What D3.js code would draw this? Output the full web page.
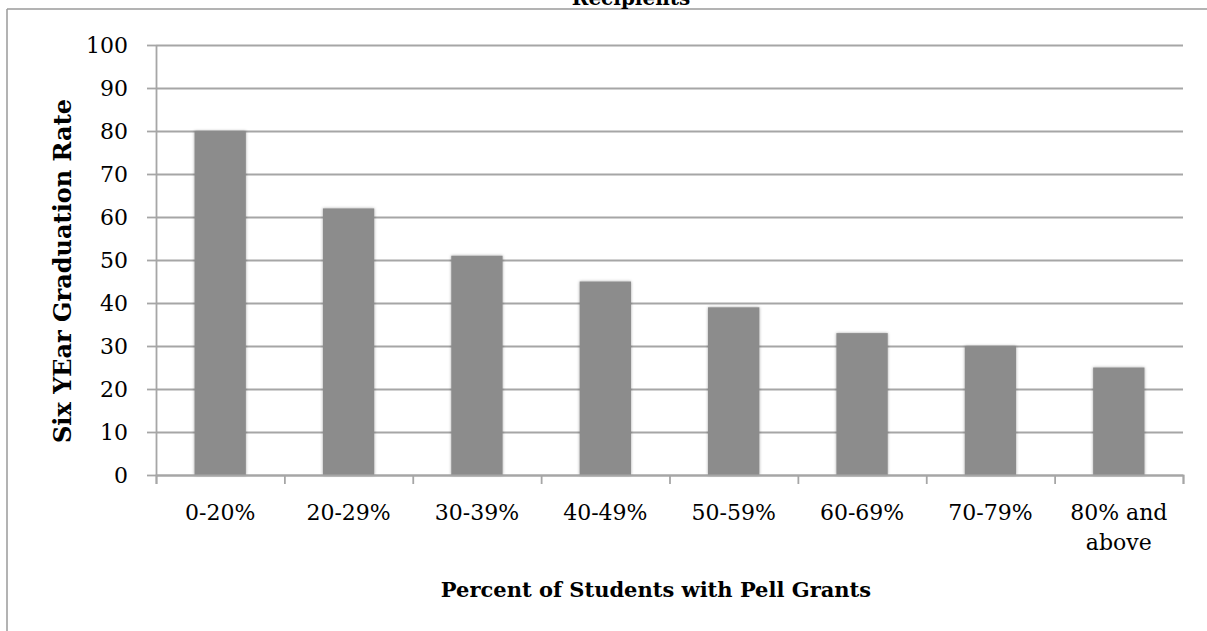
<!DOCTYPE html>
<html>
<head>
<meta charset="utf-8">
<script src="https://cdn.jsdelivr.net/npm/d3@7"></script>
<style>
  body { margin: 0; background: #fff; }
  svg text { font-family: "DejaVu Serif", "Liberation Serif", serif; fill: #000; }
  .axisLabel { font-size: 22px; }
  .axisTitle { font-size: 20px; font-weight: bold; }
</style>
</head>
<body>
<svg class="chart" width="1207" height="631"></svg>
<script>
// Chart data
var categories = ["0-20%", "20-29%", "30-39%", "40-49%", "50-59%", "60-69%", "70-79%", "80% and above"];
var gradRates = [80, 62, 51, 45, 39, 33, 30, 25];
var yTicks = [0, 10, 20, 30, 40, 50, 60, 70, 80, 90, 100];

var chartTitle = "Recipients";
var xTitle = "Percent of Students with Pell Grants";
var yTitle = "Six YEar Graduation Rate";

const width = 1207;
const height = 631;

// plot area
const plotLeft = 156, plotRight = 1183, plotTop = 45, plotBottom = 475;

var svg = d3.select(".chart");

// shadow for bars
var defs = svg.append("defs");
var shadow = defs.append("filter").attr("id", "barShadow")
    .attr("x", "-20%").attr("y", "-5%").attr("width", "140%").attr("height", "110%");
shadow.append("feDropShadow")
    .attr("dx", 0).attr("dy", 0).attr("stdDeviation", 1.6)
    .attr("flood-color", "#000").attr("flood-opacity", 0.35);

// chart frame (only the top and left edges are visible)
svg.append("line").attr("x1", 7).attr("x2", width).attr("y1", 9).attr("y2", 9)
    .attr("stroke", "#9a9a9a").attr("stroke-width", 1.5);
svg.append("line").attr("x1", 7).attr("x2", 7).attr("y1", 9).attr("y2", height)
    .attr("stroke", "#9a9a9a").attr("stroke-width", 1.5);

// title, cut by the top of the picture as in the original
svg.append("text")
    .attr("class", "axisTitle")
    .attr("x", 631).attr("y", 5)
    .attr("text-anchor", "middle")
    .text(chartTitle);

/**** Scales ****/
var xScale = d3.scaleBand()
    .domain(categories)
    .range([plotLeft, plotRight])
    .paddingInner(0.6)
    .paddingOuter(0.3);

var edgeScale = d3.scaleLinear()
    .domain([0, categories.length])
    .range([plotLeft, plotRight]);

var yScale = d3.scaleLinear()
    .domain([0, 100])
    .range([plotBottom, plotTop]);

/**** Gridlines ****/
var grid = svg.append("g")
    .attr("transform", "translate(" + plotLeft + ",0)")
    .call(d3.axisLeft(yScale).tickValues(yTicks).tickSize(-(plotRight - plotLeft)).tickFormat(""));
grid.select(".domain").remove();
grid.selectAll("line").attr("stroke", "#a6a6a6").attr("stroke-width", 1.8);

/**** Bars ****/
svg.selectAll(".bar")
    .data(gradRates)
    .enter()
    .append("rect")
    .attr("class", "bar")
    .attr("x", function(d, i) { return xScale(categories[i]); })
    .attr("y", function(d) { return yScale(d); })
    .attr("width", xScale.bandwidth())
    .attr("height", function(d) { return yScale(0) - yScale(d); })
    .attr("fill", "#8c8c8c")
    .attr("filter", "url(#barShadow)");

/**** Y axis ****/
var yAxis = svg.append("g")
    .attr("transform", "translate(" + plotLeft + ",0)")
    .call(d3.axisLeft(yScale).tickValues(yTicks).tickSize(9).tickPadding(19).tickSizeOuter(0));
yAxis.attr("font-family", null).attr("font-size", null);
yAxis.select(".domain").attr("stroke", "#a6a6a6").attr("stroke-width", 1.8);
yAxis.selectAll(".tick line").attr("stroke", "#a6a6a6").attr("stroke-width", 1.8);
yAxis.selectAll("text").attr("class", "axisLabel");

/**** X axis ****/
var xAxis = svg.append("g")
    .attr("transform", "translate(0," + plotBottom + ")")
    .call(d3.axisBottom(edgeScale).tickValues(d3.range(categories.length + 1)).tickSize(9).tickFormat(""));
xAxis.select(".domain").attr("stroke", "#a6a6a6").attr("stroke-width", 1.8);
xAxis.selectAll(".tick line").attr("stroke", "#a6a6a6").attr("stroke-width", 1.8);

// category labels, wrapped when wider than a band
var labels = svg.append("g").selectAll("text")
    .data(categories)
    .enter()
    .append("text")
    .attr("class", "axisLabel")
    .attr("text-anchor", "middle")
    .attr("x", function(d) { return xScale(d) + xScale.bandwidth() / 2; })
    .attr("y", 520)
    .text(function(d) { return d; });

labels.each(function(d) {
    var t = d3.select(this);
    if (this.getComputedTextLength() > xScale.step() - 8 && d.indexOf(" ") > 0) {
        var cut = d.lastIndexOf(" ");
        var x = t.attr("x");
        t.text(null);
        t.append("tspan").attr("x", x).text(d.slice(0, cut));
        t.append("tspan").attr("x", x).attr("dy", 30).text(d.slice(cut + 1));
    }
});

/**** Axis titles ****/
svg.append("text")
    .attr("class", "axisTitle")
    .attr("text-anchor", "middle")
    .attr("x", 656).attr("y", 597)
    .style("font-size", "21px")
    .text(xTitle);

svg.append("text")
    .attr("class", "axisTitle")
    .attr("text-anchor", "middle")
    .attr("transform", "translate(71,271) rotate(-90)")
    .style("font-size", "24px")
    .text(yTitle);
</script>
</body>
</html>
